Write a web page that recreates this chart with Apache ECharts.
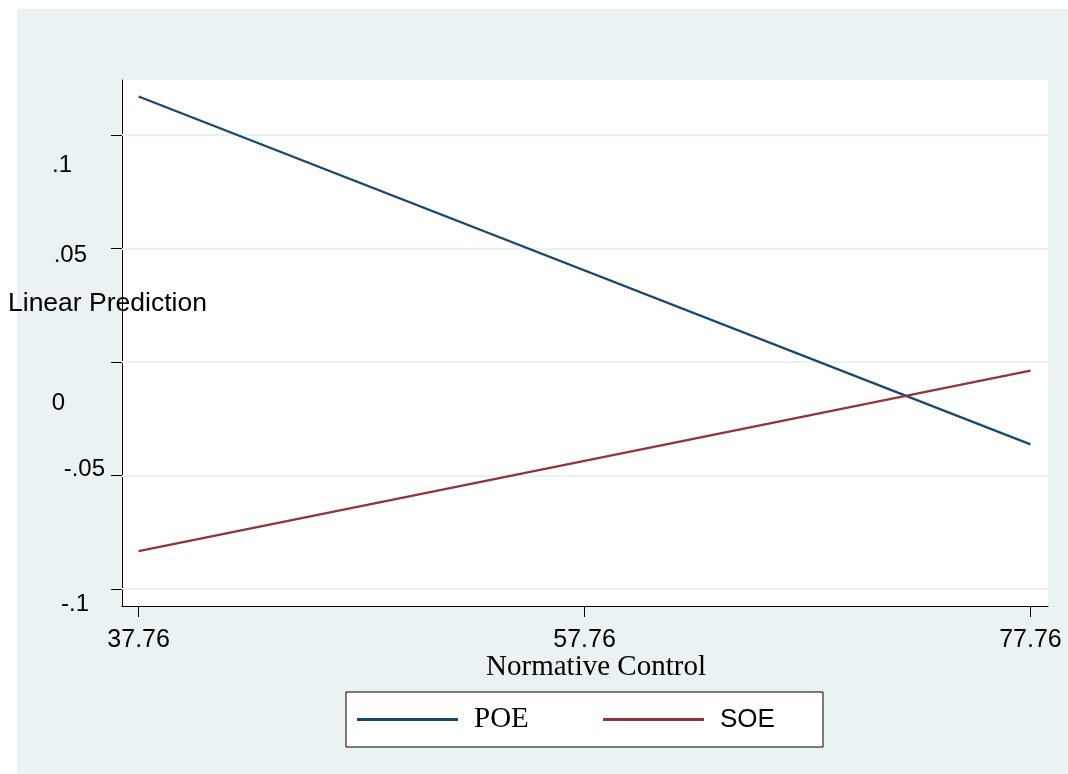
<!DOCTYPE html>
<html>
<head>
<meta charset="utf-8">
<script src="https://cdn.jsdelivr.net/npm/echarts@6/dist/echarts.min.js"></script>
<style>
  html, body { margin: 0; padding: 0; background: #fff; }
  #chart { width: 1068px; height: 774px; }
</style>
</head>
<body>
<div id="chart"></div>
<script>
// data
var xValues = [37.76, 77.76];
var poeValues = [0.1169, -0.0363];
var soeValues = [-0.0833, -0.0038];
var xTicks = [37.76, 57.76, 77.76];
var yTicks = [-0.1, -0.05, 0, 0.05, 0.1];
var yTickLabels = ['-.1', '-.05', '0', '.05', '.1'];

var chart = echarts.init(document.getElementById('chart'));

// y labels sit a bit off their ticks in the original, so each gets its own padding
var yLabelRich = {
  a: { padding: [30, 16, 0, 0] },
  b: { padding: [0, 0, 12, 0] },
  c: { padding: [83, 40, 0, 0] },
  d: { padding: [14, 18, 0, 0] },
  e: { padding: [60, 33, 0, 0] }
};
var yLabelKeys = ['a', 'b', 'c', 'd', 'e'];

function pairs(ys) {
  return xValues.map(function (x, i) { return [x, ys[i]]; });
}

var option = {
  backgroundColor: '#fff',
  animation: false,
  graphic: [{
    type: 'rect',
    z: -100,
    shape: { x: 17, y: 9, width: 1051, height: 765 },
    style: { fill: '#eaf2f3' }
  }],
  title: {
    text: 'Linear Prediction',
    left: 8,
    top: 291,
    padding: 0,
    textStyle: { fontFamily: 'Liberation Sans', fontSize: 26.5, fontWeight: 'normal', color: '#000', lineHeight: 26 }
  },
  grid: {
    left: 122, top: 80, right: 20, bottom: 168,
    show: true, backgroundColor: '#fff', borderWidth: 0
  },
  xAxis: {
    type: 'value',
    min: 37.015,
    max: 78.546,
    name: 'Normative Control',
    nameLocation: 'middle',
    nameGap: 47,
    nameMoveOverlap: false,
    nameTextStyle: { fontFamily: 'Liberation Serif', fontSize: 29, color: '#000', padding: [0, 0, 0, 22] },
    axisLine: { onZero: false, lineStyle: { color: '#000', width: 1 } },
    axisTick: { show: true, length: 11, customValues: xTicks, lineStyle: { color: '#000' } },
    axisLabel: {
      customValues: xTicks,
      margin: 22,
      fontFamily: 'Liberation Sans',
      fontSize: 25,
      color: '#000',
      formatter: function (v) { return v.toFixed(2); }
    },
    splitLine: { show: false }
  },
  yAxis: {
    type: 'value',
    min: -0.1075,
    max: 0.1242,
    axisLine: { show: true, onZero: false, lineStyle: { color: '#000', width: 1 } },
    axisTick: { show: true, length: 11, customValues: yTicks, lineStyle: { color: '#000' } },
    axisLabel: {
      customValues: yTicks,
      margin: 17,
      fontFamily: 'Liberation Sans',
      fontSize: 24,
      color: '#000',
      rich: yLabelRich,
      formatter: function (v) {
        for (var i = 0; i < yTicks.length; i++) {
          if (Math.abs(v - yTicks[i]) < 1e-9) {
            return '{' + yLabelKeys[i] + '|' + yTickLabels[i] + '}';
          }
        }
        return '';
      }
    },
    splitLine: { show: false }
  },
  legend: {
    left: 346,
    top: 692,
    orient: 'horizontal',
    padding: [13, 0, 13, 11],
    itemGap: 0,
    itemWidth: 101,
    itemHeight: 3,
    icon: 'rect',
    backgroundColor: '#fff',
    borderColor: '#000',
    borderWidth: 1,
    borderRadius: 0,
    data: [
      { name: 'POE', textStyle: { fontFamily: 'Liberation Serif', fontSize: 29, lineHeight: 24, color: '#000', width: 129, padding: [0, 0, 0, 11] } },
      { name: 'SOE', textStyle: { fontFamily: 'Liberation Sans', fontSize: 26, lineHeight: 24, color: '#000', width: 103, padding: [0, 0, 0, 11] } }
    ]
  },
  series: [
    {
      name: 'gridlines',
      type: 'line',
      data: [],
      z: 1,
      markLine: {
        z: 1,
        silent: true,
        symbol: ['none', 'none'],
        label: { show: false },
        lineStyle: { color: '#eaf2f3', width: 2, type: 'solid' },
        data: yTicks.map(function (v) { return { yAxis: v }; })
      }
    },
    {
      name: 'POE',
      type: 'line',
      z: 3,
      symbol: 'none',
      color: '#1a476f',
      lineStyle: { width: 2.2, color: '#1a476f' },
      data: pairs(poeValues)
    },
    {
      name: 'SOE',
      type: 'line',
      z: 3,
      symbol: 'none',
      color: '#90353b',
      lineStyle: { width: 2.2, color: '#90353b' },
      data: pairs(soeValues)
    }
  ]
};

chart.setOption(option);
</script>
</body>
</html>
